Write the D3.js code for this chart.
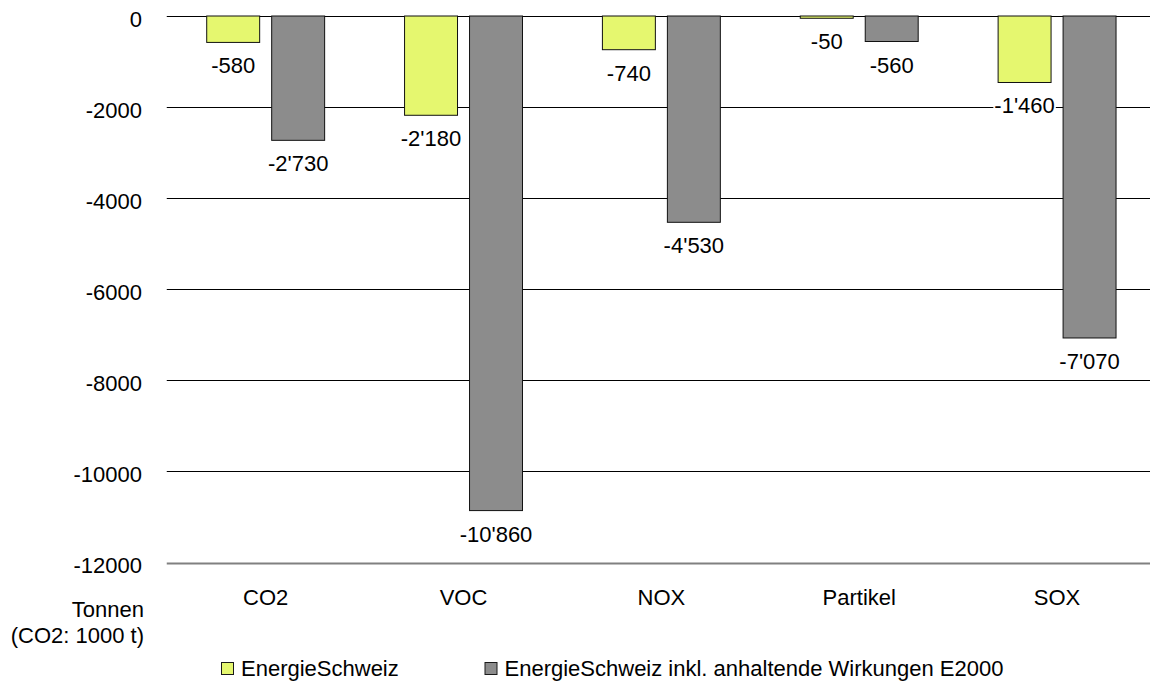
<!DOCTYPE html>
<html>
<head>
<meta charset="utf-8">
<script src="https://cdn.jsdelivr.net/npm/d3@7"></script>
<style>
  html, body { margin: 0; padding: 0; background: #fff; }
  svg { display: block; font-family: "Liberation Sans", Arial, sans-serif; }
</style>
</head>
<body>
<svg id="chart" width="1150" height="682"></svg>
<script>
// Emission reductions per pollutant (tonnes; CO2 in 1000 t)
const categories = ["CO2", "VOC", "NOX", "Partikel", "SOX"];
const seriesNames = ["EnergieSchweiz", "EnergieSchweiz inkl. anhaltende Wirkungen E2000"];
const energieSchweiz = [-580, -2180, -740, -50, -1460];
const inklE2000 = [-2730, -10860, -4530, -560, -7070];
const yTicks = [0, -2000, -4000, -6000, -8000, -10000, -12000];
const seriesColors = ["#e5f76f", "#8c8c8c"];

const seriesValues = [energieSchweiz, inklE2000];
const rows = categories.map((c, i) => ({
  category: c,
  values: seriesNames.map((s, k) => ({ series: s, key: k, value: seriesValues[k][i] }))
}));

const svg = d3.select("#chart");
const fontSize = 22;

const x0 = d3.scaleBand().domain(categories).range([166.75, 1156]).padding(0);
const x1 = d3.scaleBand().domain(d3.range(seriesNames.length))
  .range([0, x0.bandwidth()]).paddingInner(0.185).paddingOuter(0.615);
const y = d3.scaleLinear().domain([-12000, 0]).range([562.5, 16]);

const tickFmt = d3.formatLocale({ decimal: ".", thousands: "", grouping: [3], currency: ["", ""], minus: "-" }).format("d");
const valFmt = d3.formatLocale({ decimal: ".", thousands: "'", grouping: [3], currency: ["", ""], minus: "-" }).format(",d");

// Horizontal gridlines (the lowest one acts as the category axis line)
svg.append("g").selectAll("line")
  .data(yTicks)
  .join("line")
  .attr("x1", x0.range()[0])
  .attr("x2", x0.range()[1])
  .attr("y1", d => Math.round(y(d)) + 0.5)
  .attr("y2", d => Math.round(y(d)) + 0.5)
  .attr("stroke", d => d === -12000 ? "#808080" : "#000")
  .attr("stroke-width", d => d === -12000 ? 2 : 1);

// Value axis labels
svg.append("g").selectAll("text")
  .data(yTicks)
  .join("text")
  .attr("x", 142)
  .attr("y", d => y(d) + 10.8)
  .attr("text-anchor", "end")
  .attr("font-size", fontSize)
  .attr("fill", "#000")
  .text(d => tickFmt(d));

// Bars
const groups = svg.append("g").selectAll("g")
  .data(rows)
  .join("g")
  .attr("transform", d => `translate(${x0(d.category)},0)`);

groups.selectAll("rect")
  .data(d => d.values)
  .join("rect")
  .attr("x", d => x1(d.key))
  .attr("width", x1.bandwidth())
  .attr("y", y(0))
  .attr("height", d => y(d.value) - y(0))
  .attr("fill", d => seriesColors[d.key])
  .attr("stroke", "#111")
  .attr("stroke-width", 1);

// Value labels with white backing
const labels = groups.selectAll("g.lbl")
  .data(d => d.values)
  .join("g")
  .attr("class", "lbl");

labels.append("rect").attr("fill", "#fff");
labels.append("text")
  .attr("x", d => x1(d.key) + x1.bandwidth() / 2)
  .attr("y", d => y(d.value) + 31)
  .attr("text-anchor", "middle")
  .attr("font-size", fontSize)
  .attr("fill", "#000")
  .text(d => valFmt(d.value));

labels.each(function () {
  const g = d3.select(this);
  const bb = g.select("text").node().getBBox();
  g.select("rect")
    .attr("x", bb.x - 1)
    .attr("y", bb.y + 2)
    .attr("width", bb.width + 2)
    .attr("height", bb.height - 4);
});

// Category labels
svg.append("g").selectAll("text")
  .data(categories)
  .join("text")
  .attr("x", d => x0(d) + x0.bandwidth() / 2)
  .attr("y", 605)
  .attr("text-anchor", "middle")
  .attr("font-size", fontSize)
  .attr("fill", "#000")
  .text(d => d);

// Unit note
const unit = svg.append("text")
  .attr("text-anchor", "end")
  .attr("font-size", fontSize)
  .attr("fill", "#000");
unit.append("tspan").attr("x", 144).attr("y", 616.5).text("Tonnen");
unit.append("tspan").attr("x", 144).attr("y", 643).text("(CO2: 1000 t)");

// Legend
const legendX = [221, 484.5];
const legend = svg.append("g").selectAll("g")
  .data(seriesNames)
  .join("g")
  .attr("transform", (d, i) => `translate(${legendX[i]},662)`);
legend.append("rect")
  .attr("x", 0.5).attr("y", 0.5)
  .attr("width", 12).attr("height", 12)
  .attr("fill", (d, i) => seriesColors[i])
  .attr("stroke", "#1a1a1a")
  .attr("stroke-width", 1);
legend.append("text")
  .attr("x", 20)
  .attr("y", 13.5)
  .attr("font-size", fontSize)
  .attr("fill", "#000")
  .text(d => d);
</script>
</body>
</html>
